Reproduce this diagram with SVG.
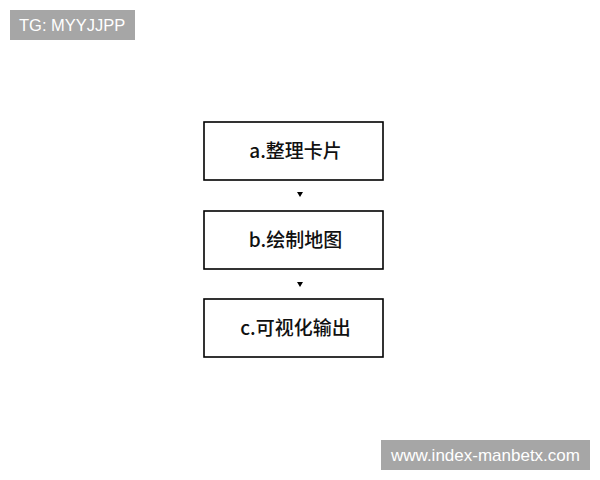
<svg xmlns="http://www.w3.org/2000/svg" width="600" height="480" viewBox="0 0 600 480">
<style>
.box{fill:#fff;stroke:#000;stroke-width:1.6}
.lbl{font-family:"Noto Sans CJK SC","Liberation Sans",sans-serif;font-size:19px;font-weight:500;fill:#111;text-anchor:middle}
.tag{fill:#a6a6a6}
.tagt{font-family:"Liberation Sans","Noto Sans CJK SC",sans-serif;fill:#fff}
.arr{fill:#000}
</style>
<rect width="600" height="480" fill="#fff"/>
<g id="tag-top">
<rect class="tag" x="10" y="10" width="125" height="30"/>
<text class="tagt" x="19" y="31" font-size="16.5">TG: MYYJJPP</text>
</g>
<g id="tag-bottom">
<rect class="tag" x="381" y="440" width="209" height="30"/>
<text class="tagt" x="391" y="461" font-size="17">www.index-manbetx.com</text>
</g>
<g id="node-a">
<rect class="box" x="204" y="122" width="179" height="58"/>
<text class="lbl" x="295.5" y="158">a.整理卡片</text>
</g>
<g id="node-b">
<rect class="box" x="204" y="211" width="179" height="58"/>
<text class="lbl" x="295.5" y="247">b.绘制地图</text>
</g>
<g id="node-c">
<rect class="box" x="204" y="299" width="179" height="58"/>
<text class="lbl" x="295.5" y="335">c.可视化输出</text>
</g>
<g id="connectors">
<path class="arr" d="M297,192 L303,192 L300,197 Z"/>
<path class="arr" d="M297,282 L303,282 L300,287 Z"/>
</g>
</svg>
